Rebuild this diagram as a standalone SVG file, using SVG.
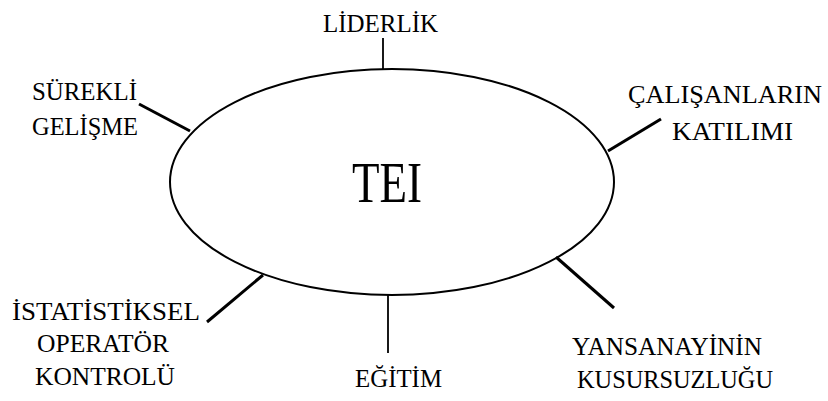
<svg xmlns="http://www.w3.org/2000/svg" width="828" height="401" viewBox="0 0 828 401">
<defs>
<style>
.t{fill:#000;font-size:25px}
.big{font-size:58px}
.ray{stroke:#000;stroke-width:3;stroke-linecap:butt;fill:none}
.thin{stroke:#000;stroke-width:1.8;fill:none}
</style>
</defs>
<rect width="828" height="401" fill="#fff"/>
<g id="connectors">
<line class="thin" x1="383" y1="38" x2="383" y2="70"/>
<line class="ray" x1="139" y1="104" x2="190" y2="131"/>
<line class="ray" x1="661" y1="119" x2="608" y2="151"/>
<line class="ray" x1="207" y1="322" x2="263" y2="275"/>
<line class="thin" x1="388" y1="295" x2="388" y2="353"/>
<line class="ray" x1="556" y1="257" x2="614" y2="308"/>
</g>
<g font-family="Liberation Serif, DejaVu Serif, serif">
<g id="tei">
<ellipse cx="392" cy="182" rx="222" ry="113" fill="none" stroke="#000" stroke-width="2"/>
<text class="t big" x="352" y="202" textLength="70" lengthAdjust="spacingAndGlyphs">TEI</text>
</g>
<g id="liderlik">
<text class="t" x="323" y="32" textLength="115" lengthAdjust="spacingAndGlyphs">LİDERLİK</text>
</g>
<g id="surekli-gelisme">
<text class="t" x="32" y="100" textLength="105" lengthAdjust="spacingAndGlyphs">SÜREKLİ</text>
<text class="t" x="32" y="135" textLength="106" lengthAdjust="spacingAndGlyphs">GELİŞME</text>
</g>
<g id="calisanlarin-katilimi">
<text class="t" x="628" y="103" textLength="194" lengthAdjust="spacingAndGlyphs">ÇALIŞANLARIN</text>
<text class="t" x="672" y="140" textLength="121" lengthAdjust="spacingAndGlyphs">KATILIMI</text>
</g>
<g id="istatistiksel">
<text class="t" x="12" y="320" textLength="188" lengthAdjust="spacingAndGlyphs">İSTATİSTİKSEL</text>
<text class="t" x="37" y="352" textLength="132" lengthAdjust="spacingAndGlyphs">OPERATÖR</text>
<text class="t" x="35" y="385" textLength="140" lengthAdjust="spacingAndGlyphs">KONTROLÜ</text>
</g>
<g id="egitim">
<text class="t" x="355" y="387" textLength="87" lengthAdjust="spacingAndGlyphs">EĞİTİM</text>
</g>
<g id="yansanayinin">
<text class="t" x="572" y="355" textLength="190" lengthAdjust="spacingAndGlyphs">YANSANAYİNİN</text>
<text class="t" x="577" y="388" textLength="196" lengthAdjust="spacingAndGlyphs">KUSURSUZLUĞU</text>
</g>
</g>
</svg>
